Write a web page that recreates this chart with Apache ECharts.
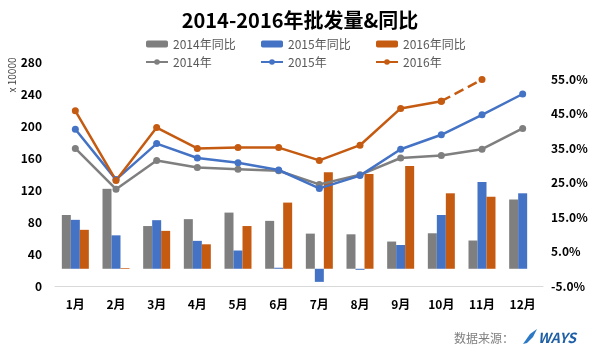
<!DOCTYPE html>
<html>
<head>
<meta charset="utf-8">
<script src="https://cdn.jsdelivr.net/npm/echarts@6/dist/echarts.min.js"></script>
<style>
  html, body { margin: 0; padding: 0; background: #fff; }
  #chart { width: 600px; height: 354px; }
</style>
</head>
<body>
<div id="chart"></div>
<script>
'use strict';

var months = ['1月', '2月', '3月', '4月', '5月', '6月', '7月', '8月', '9月', '10月', '11月', '12月'];

// 批发量 (x 10000)
var vol2014 = [172, 121, 157, 148, 146, 144, 127, 139, 160, 163, 171, 197];
var vol2015 = [196, 133, 178, 160, 154, 145, 122, 138, 171, 189, 214, 240];
var vol2016 = [219, 132, 198, 172, 173, 173, 157, 176, 222, 231, null, null];
var vol2016Est = [null, null, null, null, null, null, null, null, null, 231, 258, null];

// 同比
var yoy2014 = [0.156, 0.232, 0.124, 0.144, 0.163, 0.139, 0.102, 0.100, 0.079, 0.103, 0.082, 0.201];
var yoy2015 = [0.142, 0.097, 0.141, 0.081, 0.053, 0.003, -0.038, -0.003, 0.069, 0.156, 0.252, 0.219];
var yoy2016 = [0.113, 0.002, 0.110, 0.071, 0.124, 0.192, 0.280, 0.275, 0.298, 0.219, 0.209, null];

var GRAY = '#7f7f7f',
    BLUE = '#4472c4',
    ORANGE = '#c55a11';
var FONT = '"Noto Sans CJK SC", sans-serif';

var barSeries = function (name, data, color) {
    return {
        name: name,
        type: 'bar',
        yAxisIndex: 1,
        barWidth: 9,
        barGap: '0%',
        itemStyle: { color: color },
        data: data
    };
};
var lineSeries = function (name, data, color, dashed) {
    return {
        name: name,
        type: 'line',
        yAxisIndex: 0,
        symbol: 'circle',
        symbolSize: 7,
        z: 5,
        lineStyle: { color: color, width: 2.5, type: dashed ? 'dashed' : 'solid' },
        itemStyle: { color: color },
        data: data
    };
};
var legendCol = function (left, names) {
    return {
        orient: 'vertical',
        left: left,
        top: 38,
        padding: 0,
        itemGap: 6,
        itemWidth: 22,
        itemHeight: 7,
        data: names,
        textStyle: { color: '#595959', fontSize: 12, fontFamily: FONT, lineHeight: 12 }
    };
};

var options = {
    animation: false,
    title: {
        text: '2014-2016年批发量&同比',
        left: 'center',
        top: 5,
        textStyle: { fontSize: 20, fontWeight: 'bold', color: '#000', fontFamily: FONT }
    },
    legend: [
        legendCol(145, ['2014年同比', '2014年']),
        legendCol(260, ['2015年同比', '2015年']),
        legendCol(375, ['2016年同比', '2016年'])
    ],
    grid: { left: 55, right: 57, top: 62, bottom: 68 },
    xAxis: {
        type: 'category',
        data: months,
        axisLine: { lineStyle: { color: '#d9d9d9', width: 1 } },
        axisTick: { show: false },
        axisLabel: { color: '#000', fontWeight: 'bold', fontSize: 12, margin: 12, fontFamily: FONT }
    },
    yAxis: [
        {
            type: 'value',
            min: 0,
            max: 280,
            interval: 40,
            splitLine: { show: false },
            axisLine: { show: false },
            axisTick: { show: false },
            axisLabel: { color: '#000', fontWeight: 'bold', fontSize: 12, margin: 13, fontFamily: FONT }
        },
        {
            type: 'value',
            min: -0.05,
            max: 0.6,
            interval: 0.1,
            splitLine: { show: false },
            axisLine: { show: false },
            axisTick: { show: false },
            axisLabel: {
                color: '#000', fontWeight: 'bold', fontSize: 12, margin: 8, fontFamily: FONT,
                showMaxLabel: false,
                formatter: function (v) { return (v * 100).toFixed(1) + '%'; }
            }
        }
    ],
    graphic: [
        {
            type: 'text',
            x: 12,
            y: 75,
            rotation: Math.PI / 2,
            style: { text: 'x 10000', fill: '#404040', font: '10px ' + FONT, align: 'center', verticalAlign: 'middle' }
        },
        {
            type: 'text',
            x: 454,
            y: 338,
            style: { text: '数据来源：', fill: '#7f7f7f', font: '12px ' + FONT, verticalAlign: 'middle' }
        },
        {
            type: 'text',
            x: 538,
            y: 338,
            style: { text: 'WAYS', fill: '#1f5fa6', font: 'italic bold 14px ' + FONT, verticalAlign: 'middle' }
        },
        {
            type: 'polygon',
            shape: { points: [[523, 344], [530, 334], [537, 329], [533, 337], [527, 343]] },
            style: { fill: '#2a78c6' }
        }
    ],
    series: [
        barSeries('2014年同比', yoy2014, GRAY),
        barSeries('2015年同比', yoy2015, BLUE),
        barSeries('2016年同比', yoy2016, ORANGE),
        lineSeries('2014年', vol2014, GRAY),
        lineSeries('2015年', vol2015, BLUE),
        lineSeries('2016年', vol2016, ORANGE),
        lineSeries('2016年预估', vol2016Est, ORANGE, true)
    ]
};

var myChart = echarts.init(document.getElementById('chart'));
myChart.setOption(options);
</script>
</body>
</html>
